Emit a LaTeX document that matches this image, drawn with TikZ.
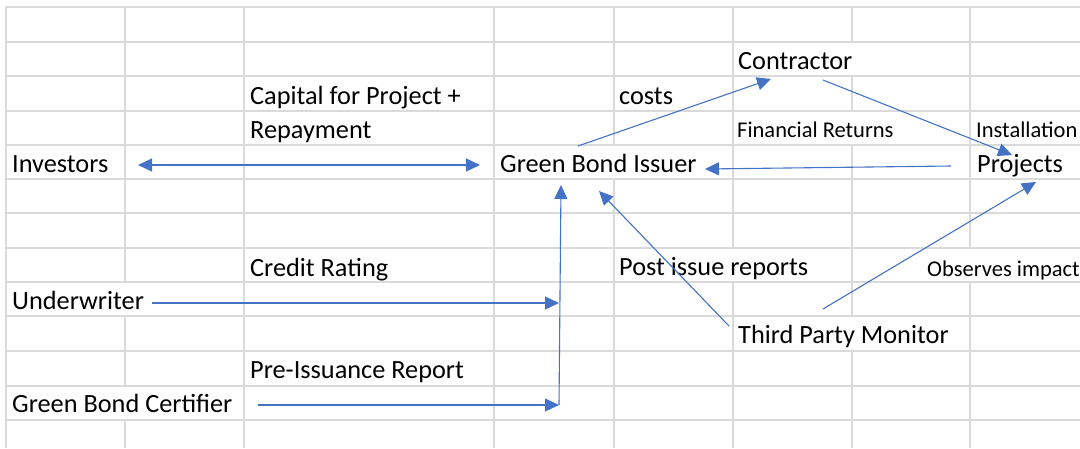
\documentclass[tikz,border=0pt]{standalone}
\usepackage{fontspec}
\setmainfont{Carlito}
\usetikzlibrary{arrows.meta}
\definecolor{gridc}{HTML}{DADADA}
\definecolor{arr}{HTML}{4472C4}
\begin{document}
\begin{tikzpicture}[x=1pt,y=-1pt,
  big/.style={inner sep=0pt, anchor=base west, font=\fontsize{26.3}{30}\selectfont},
  sml/.style={inner sep=0pt, anchor=base west, font=\fontsize{22.5}{26}\selectfont},
  tipshape/.tip={Triangle[length=14pt,width=13pt]},
  conn/.style={draw=arr, line width=1.1pt, -tipshape},
  dbl/.style={draw=arr, line width=1.1pt, tipshape-tipshape},
  gridline/.style={draw=gridc, line width=2pt}]
\useasboundingbox (0,0) rectangle (1080,448);
\fill[white] (0,0) rectangle (1080,448);
% spreadsheet grid
\foreach \y in {7,42,76,111,145,179,213,248,282,316,351,386,420}
  \draw[gridline] (5,\y) -- (1080,\y);
\foreach \x in {6,125,244,494,614,733,852,970}
  \draw[gridline] (\x,6) -- (\x,448);
% grid lines hidden under overflowing text
\foreach \x/\a/\b in {614/145/179, 852/42/76, 852/111/145, 733/248/282,
                      970/248/282, 125/282/316, 852/316/351, 125/386/420}
  \fill[white] (\x-2,\a+1.2) rectangle (\x+2,\b-1.2);
% texts
\node[big] (inv)  at (12,172)  {Investors};
\node[big] (cap1) at (250,104) {Capital for Project +};
\node[big] (cap2) at (250,138) {Repayment};
\node[big] (gbi)  at (500,172) {Green Bond Issuer};
\node[big] (con)  at (738,69)  {Contractor};
\node[big] (cost) at (619,104) {costs};
\node[sml] (fin)  at (737,137) {Financial Returns};
\node[sml] (inst) at (976,137) {Installation};
\node[big] (proj) at (977,172) {Projects};
\node[big] (cr)   at (250,276) {Credit Rating};
\node[big] (pir)  at (619,275) {Post issue reports};
\node[sml] (obs)  at (927,276) {Observes impact};
\node[big] (und)  at (12,309)  {Underwriter};
\node[big] (tpm)  at (738,343) {Third Party Monitor};
\node[big] (pre)  at (250,378) {Pre-Issuance Report};
\node[big] (cert) at (12,412)  {Green Bond Certifier};
% connector end points
\coordinate (invE)  at (138,165);
\coordinate (gbiW)  at (480,165);
\coordinate (gbiNE) at (578,146);
\coordinate (conSW) at (771,79);
\coordinate (conSE) at (823,80);
\coordinate (projNW) at (1012,155);
\coordinate (projW) at (951,166);
\coordinate (gbiE)  at (705,169);
\coordinate (gbiS)  at (561,185);
\coordinate (vbot)  at (559,405);
\coordinate (vmid)  at (559,303);
\coordinate (undE)  at (152,303);
\coordinate (certE) at (258,405);
\coordinate (tpmNW) at (729,326);
\coordinate (gbiSE) at (599,191);
\coordinate (tpmNE) at (823,309);
\coordinate (projS) at (1036,182);
% connectors
\draw[dbl]  (invE) -- (gbiW);
\draw[conn] (gbiNE) -- (conSW);
\draw[conn] (conSE) -- (projNW);
\draw[conn] (projW) -- (gbiE);
\draw[conn] (vbot) -- (gbiS);
\draw[conn] (undE) -- (vmid);
\draw[conn] (certE) -- (vbot);
\draw[conn] (tpmNW) -- (gbiSE);
\draw[conn] (tpmNE) -- (projS);
\end{tikzpicture}
\end{document}
